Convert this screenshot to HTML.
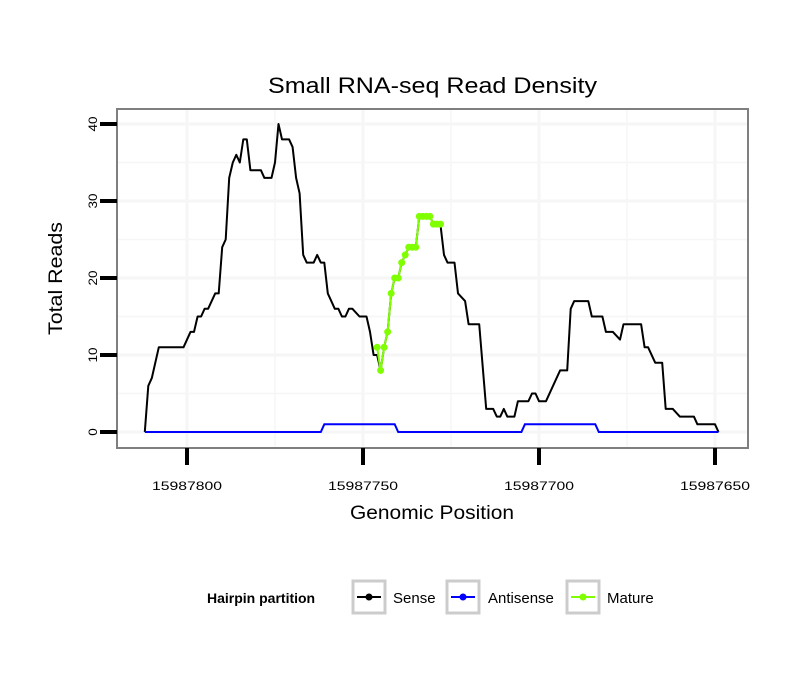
<!DOCTYPE html>
<html><head><meta charset="utf-8"><style>
body{margin:0;background:#fff;font-family:"Liberation Sans",sans-serif}
svg text{font-family:"Liberation Sans",sans-serif}
</style></head><body>
<svg id="chart" width="810" height="690">
<rect width="810" height="690" fill="#fff"/>
<text x="268" y="93" font-size="22" textLength="329" lengthAdjust="spacingAndGlyphs">Small RNA-seq Read Density</text>
<rect x="117" y="109" width="631" height="339" fill="#fff"/>
<g id="grid"></g>
<g id="series"></g>
<rect x="117" y="109" width="631" height="339" fill="none" stroke="#7f7f7f" stroke-width="2"/>
<g id="axes"></g>
<text x="350" y="519" font-size="19" textLength="164" lengthAdjust="spacingAndGlyphs">Genomic Position</text>
<text transform="translate(62,335) rotate(-90)" font-size="19" textLength="113" lengthAdjust="spacingAndGlyphs">Total Reads</text>
<g>
<text x="207" y="603" font-size="14" font-weight="bold">Hairpin partition</text>
<g>
<rect x="353" y="581" width="32" height="32" fill="#fff" stroke="#cccccc" stroke-width="3"/>
<line x1="357" y1="597" x2="381" y2="597" stroke="#000" stroke-width="2"/><circle cx="369" cy="597" r="3.5" fill="#000"/>
<text x="393" y="603" font-size="15">Sense</text></g>
<g>
<rect x="447" y="581" width="32" height="32" fill="#fff" stroke="#cccccc" stroke-width="3"/>
<line x1="451" y1="597" x2="475" y2="597" stroke="#0000ff" stroke-width="2"/><circle cx="463" cy="597" r="3.5" fill="#0000ff"/>
<text x="488" y="603" font-size="15">Antisense</text></g>
<g>
<rect x="567" y="581" width="32" height="32" fill="#fff" stroke="#cccccc" stroke-width="3"/>
<line x1="571" y1="597" x2="595" y2="597" stroke="#7fff00" stroke-width="2"/><circle cx="583" cy="597" r="3.5" fill="#7fff00"/>
<text x="607" y="603" font-size="15">Mature</text></g>
</g>
</svg>
<script>
const base = 15987800;
const senseOffsets = [-12,-11,-10,-8,-1,1,2,3,4,5,6,8,9,10,11,12,13,14,15,16,17,18,21,22,24,25,26,27,29,30,31,32,33,34,36,37,38,39,40,41,42,43,44,45,46,47,49,51,52,53,54,55,56,57,58,59,60,61,62,63,65,66,69,70,72,73,74,76,77,79,80,83,85,87,88,89,90,91,93,94,97,98,99,100,102,106,108,109,110,114,115,118,119,121,123,124,129,130,131,133,135,136,138,140,144,145,150,151];
const senseValues = [0,6,7,11,11,13,13,15,15,16,16,18,18,24,25,33,35,36,35,38,38,34,34,33,33,35,40,38,38,37,33,31,23,22,22,23,22,22,18,17,16,16,15,15,16,16,15,15,13,10,10,8,11,13,18,20,20,22,23,24,24,28,28,27,27,23,22,22,18,17,14,14,3,3,2,2,3,2,2,4,4,5,5,4,4,8,8,16,17,17,15,15,13,13,12,14,14,11,11,9,9,3,3,2,2,1,1,0];
const antiOffsets = [-12,38,39,59,60,95,96,116,117,151];
const antiValues = [0,0,1,1,0,0,1,1,0,0];
const matureOffsets = [54,55,56,57,58,59,60,61,62,63,64,65,66,67,68,69,70,71,72];
const matureValues = [11,8,11,13,18,20,20,22,23,24,24,24,28,28,28,28,27,27,27];
const xTicks = [15987800,15987750,15987700,15987650];
const yTicks = [0,10,20,30,40];

const NS='http://www.w3.org/2000/svg';
const xS = p => 187 + (15987800 - p) * 3.52;
const yS = v => 432 - v * 7.7;
function mk(tag, attrs, parent){const e=document.createElementNS(NS,tag);for(const k in attrs)e.setAttribute(k,attrs[k]);parent.appendChild(e);return e;}
const grid=document.getElementById('grid'), series=document.getElementById('series'), axes=document.getElementById('axes');
[-5,5,15,25,35].concat(yTicks).forEach(v=>{const y=yS(v);if(y<110||y>447)return;
 const l=mk('line',{x1:118,x2:747,y1:y,y2:y,stroke:'#f6f6f6','stroke-width':yTicks.includes(v)?3:1.5},grid);
 
 });
[15987825,15987775,15987725,15987675].concat(xTicks).forEach(p=>{const x=xS(p);if(x<118||x>747)return;
 const l=mk('line',{x1:x,x2:x,y1:110,y2:447,stroke:'#f6f6f6','stroke-width':xTicks.includes(p)?3:1.5},grid);
 
 });
function pts(offs, vals){return offs.map((o,i)=>xS(base-o).toFixed(1)+','+yS(vals[i]).toFixed(1)).join(' ');}
const s=mk('polyline',{points:pts(senseOffsets,senseValues),fill:'none',stroke:'#000','stroke-width':2,'stroke-linejoin':'round'},series);


const a=mk('polyline',{points:pts(antiOffsets,antiValues),fill:'none',stroke:'#0000ff','stroke-width':2},series);


const m=mk('polyline',{points:pts(matureOffsets,matureValues),fill:'none',stroke:'#7fff00','stroke-width':2},series);


matureOffsets.forEach((o,i)=>{const c=mk('circle',{cx:xS(base-o),cy:yS(matureValues[i]),r:3.5,fill:'#7fff00'},series);
 
 });
yTicks.forEach(v=>{const y=yS(v);
 const t=mk('line',{x1:100,x2:117,y1:y,y2:y,stroke:'#000','stroke-width':4},axes);
 
 
 const tx=mk('text',{transform:`translate(97,${y}) rotate(-90)`,'font-size':12,'text-anchor':'middle',textLength:String(v).length*7.5,lengthAdjust:'spacingAndGlyphs'},axes);
 tx.textContent=v;
 
 });
xTicks.forEach(p=>{const x=xS(p);
 const t=mk('line',{x1:x,x2:x,y1:448,y2:465,stroke:'#000','stroke-width':4},axes);
 
 
 const tx=mk('text',{x:x,y:490,'font-size':12,'text-anchor':'middle',textLength:70,lengthAdjust:'spacingAndGlyphs'},axes);
 tx.textContent=p;
 
 });
</script>
</body></html>
